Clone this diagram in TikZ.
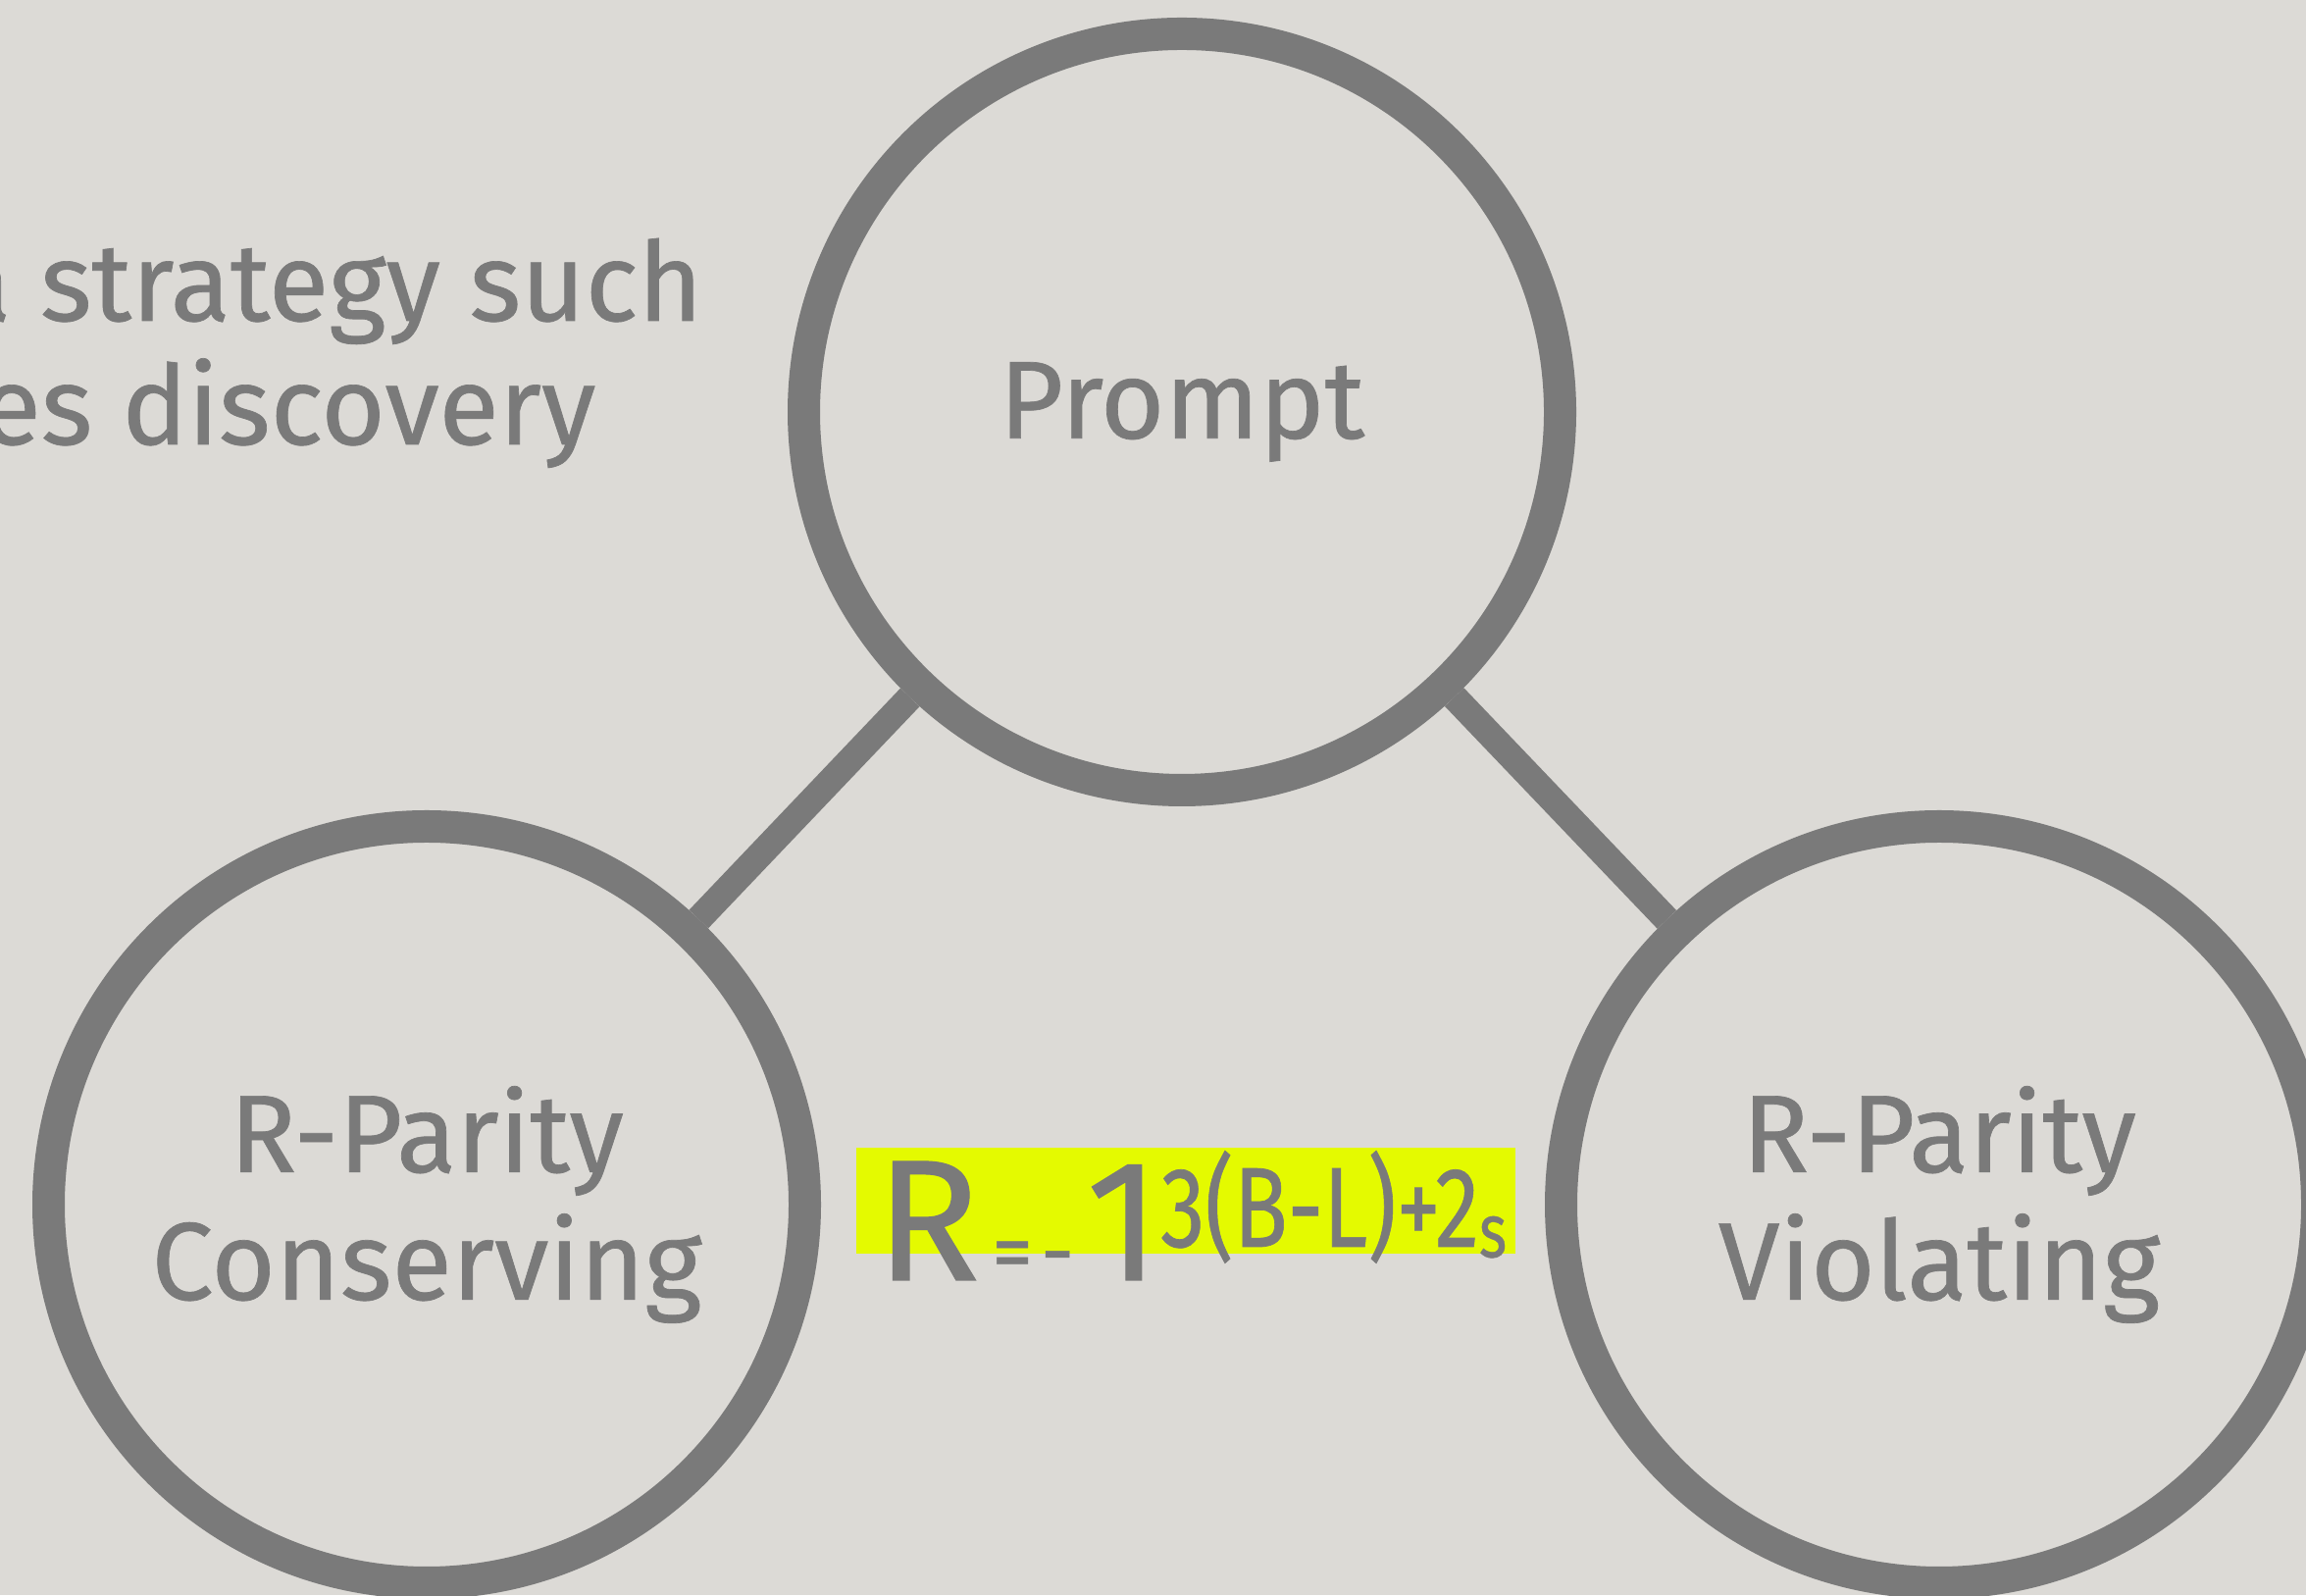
\documentclass[tikz,border=0pt]{standalone}
\usepackage{fontspec}
\setmainfont{Fira Sans}[FakeBold=0.6]
\usetikzlibrary{positioning}
\definecolor{slidebg}{HTML}{DCDAD6}
\definecolor{inkgray}{HTML}{7A7A7A}
\definecolor{marker}{HTML}{E4FA00}

\begin{document}
\begin{tikzpicture}[-,
  party node/.style={circle,draw=inkgray,line width=0.33cm,minimum size=7.71cm,inner sep=0pt,
    text=inkgray,align=center,font=\fontsize{32}{37}\selectfont},
  link/.style={draw=inkgray,line width=0.27cm},
  slide text/.style={text=inkgray,inner sep=0pt,font=\fontsize{32}{37}\selectfont}]

  \useasboundingbox (0,0) rectangle (23.51,16.26);
  \fill[slidebg] (0,0) rectangle (23.51,16.26);
  \clip (0,0) rectangle (23.51,16.26);

  \node[slide text,anchor=base east] (line1) at (7.17,12.99) {a strategy such};
  \node[slide text,anchor=base east] (line2) at (6.08,11.73) {es discovery};

  \node[party node] (prompt) at (12.05,12.06) {Prompt};
  \node[party node] (rpc) at (4.35,3.98) {R-Parity\\Conserving};
  \node[party node] (rpv) at (19.77,3.98) {R-Parity\\Violating};

  \path (prompt) edge[link] (rpc)
                 edge[link] (rpv);

  % highlighted formula
  \node[fill=marker,minimum width=6.72cm,minimum height=1.08cm,inner sep=0pt] (mark) at (12.09,4.02) {};
  \node[anchor=base west,text=inkgray,inner sep=0pt] (charge) at (8.92,3.21)
    {{\fontsize{50}{50}\selectfont R}\hspace{0.12cm}%
     {\fontsize{24}{24}\selectfont =\hspace{0.08cm}-}\hspace{0.12cm}%
     {\fontsize{50}{50}\selectfont 1}%
     \raisebox{0.34cm}{\scalebox{0.78}[1]{\fontsize{33}{33}\selectfont 3(B-L)+2\raisebox{-3pt}{\fontsize{22}{22}\selectfont s}}}};
\end{tikzpicture}
\end{document}
